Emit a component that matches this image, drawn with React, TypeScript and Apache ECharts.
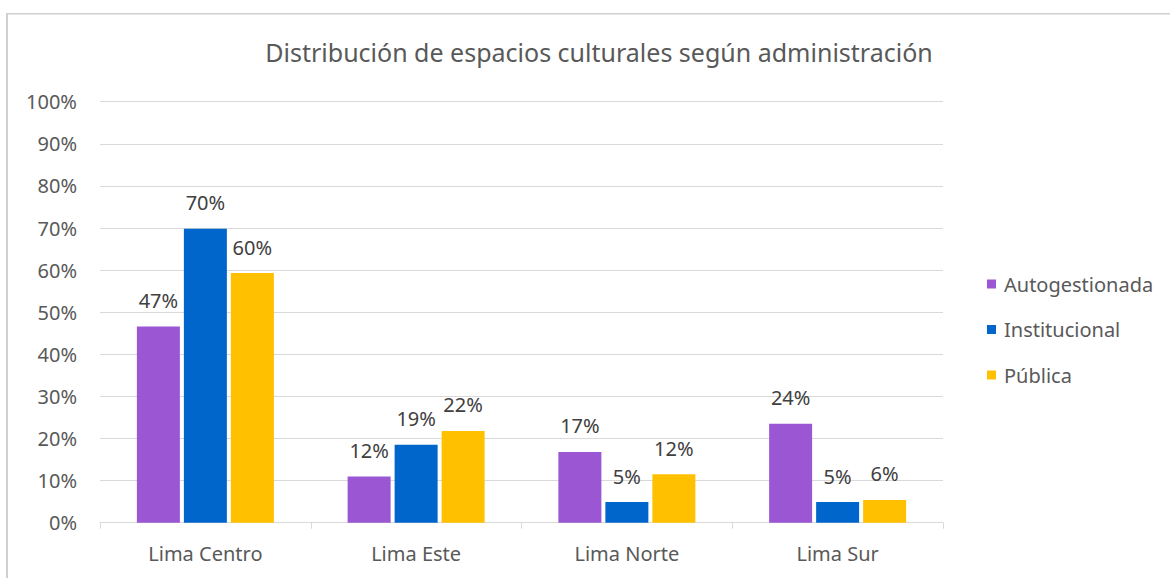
import React, { useEffect, useRef } from "react";
import * as echarts from "echarts";

const categories = ["Lima Centro", "Lima Este", "Lima Norte", "Lima Sur"];
const seriesNames = ["Autogestionada", "Institucional", "Pública"];
const autogestionada = [46.6, 11.0, 16.8, 23.5];
const institucional = [69.8, 18.5, 4.9, 4.9];
const publica = [59.3, 21.8, 11.5, 5.4];
const autogestionadaLabels = ["47%", "12%", "17%", "24%"];
const institucionalLabels = ["70%", "19%", "5%", "5%"];
const publicaLabels = ["60%", "22%", "12%", "6%"];
const colors = ["#9B57D3", "#0066CC", "#FFC000"];
const title = "Distribución de espacios culturales según administración";

const FONT = "'Noto Sans', sans-serif";

export default function App() {
  const ref = useRef<HTMLDivElement>(null);
  useEffect(() => {
    if (!ref.current) return;
    const chart = echarts.init(ref.current, undefined, { renderer: "svg" });
    const values = [autogestionada, institucional, publica];
    const labels = [autogestionadaLabels, institucionalLabels, publicaLabels];
    chart.setOption({
      animation: false,
      backgroundColor: "#ffffff",
      textStyle: { fontFamily: FONT },
      title: {
        text: title,
        left: 594,
        top: 34,
        textAlign: "center",
        textStyle: { fontFamily: FONT, fontSize: 25, fontWeight: "normal", color: "#595959" },
      },
      graphic: [
        {
          type: "rect",
          z: 100,
          shape: { x: 6, y: 13, width: 1164, height: 1.5 },
          style: { fill: "#d0d0d0" },
          silent: true,
        },
        {
          type: "rect",
          z: 100,
          shape: { x: 6, y: 13, width: 2, height: 565 },
          style: { fill: "#d0d0d0" },
          silent: true,
        },
      ],
      legend: {
        orient: "vertical",
        left: 987,
        top: 273,
        padding: 0,
        itemWidth: 9,
        itemHeight: 9,
        itemGap: 23.5,
        icon: "rect",
        textStyle: { fontFamily: FONT, fontSize: 20, color: "#595959", lineHeight: 22, padding: [0, 0, 0, 3] },
        data: seriesNames,
      },
      grid: { left: 100, right: 227, top: 101.7, bottom: 55.3, containLabel: false },
      xAxis: {
        type: "category",
        data: categories,
        axisLine: { lineStyle: { color: "#d9d9d9", width: 1 } },
        axisTick: { show: true, length: 6, lineStyle: { color: "#d9d9d9" } },
        axisLabel: { fontFamily: FONT, fontSize: 20, color: "#595959", margin: 21 },
      },
      yAxis: {
        type: "value",
        min: 0,
        max: 100,
        interval: 10,
        axisLine: { show: false },
        axisTick: { show: false },
        splitLine: { lineStyle: { color: "#d9d9d9", width: 1 } },
        axisLabel: {
          fontFamily: FONT,
          fontSize: 20,
          color: "#595959",
          margin: 23,
          formatter: (v: number) => v + "%",
        },
      },
      series: seriesNames.map((name, i) => ({
        name,
        type: "bar",
        data: values[i],
        barWidth: 43,
        barGap: "9.3%",
        itemStyle: { color: colors[i] },
        label: {
          show: true,
          position: "top",
          distance: 16,
          fontFamily: FONT,
          fontSize: 20,
          color: "#404040",
          formatter: (p: any) => labels[i][p.dataIndex],
        },
      })),
    });
    return () => chart.dispose();
  }, []);
  return (
    <div
      ref={ref}
      style={{ position: "absolute", left: 0, top: 0, width: 1170, height: 578 }}
    />
  );
}
